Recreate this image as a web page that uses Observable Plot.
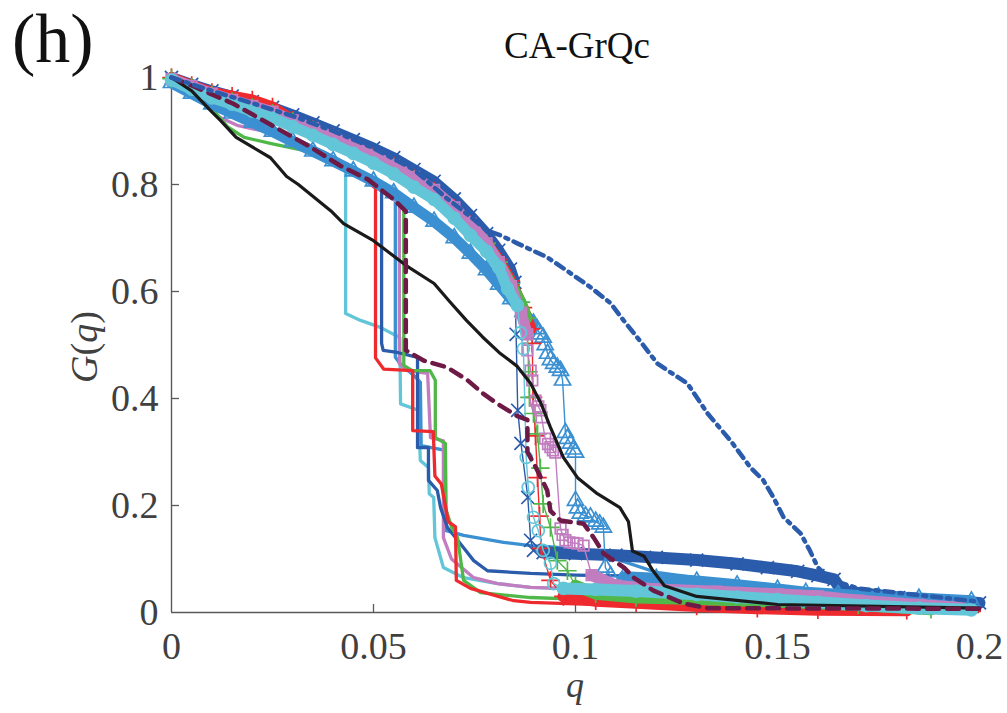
<!DOCTYPE html>
<html>
<head>
<meta charset="utf-8">
<script src="https://cdn.jsdelivr.net/npm/d3@7"></script>
<script src="https://cdn.jsdelivr.net/npm/@observablehq/plot@0.6"></script>
<style>
  body { margin: 0; background: #fff; }
  #chart { width: 1007px; height: 713px; }
</style>
</head>
<body>
<div id="chart"></div>
<script>
// Giant-component size G(q) versus removed fraction q, CA-GrQc network.
const xTicks = [0, 0.05, 0.1, 0.15, 0.2];
const yTicks = [0, 0.2, 0.4, 0.6, 0.8, 1];

// Reference curves
const blackCurve = [[0,1],[0.005,0.975],[0.0101,0.935],[0.0121,0.92],[0.016,0.888],[0.0245,0.85],[0.0285,0.815],[0.0314,0.8],[0.0394,0.751],[0.0426,0.727],[0.05,0.695],[0.054,0.672],[0.058,0.649],[0.065,0.615],[0.069,0.58],[0.073,0.546],[0.077,0.515],[0.0814,0.484],[0.0856,0.46],[0.0889,0.428],[0.0915,0.39],[0.0938,0.346],[0.097,0.29],[0.1005,0.252],[0.1054,0.222],[0.111,0.196],[0.1131,0.17],[0.1141,0.115],[0.117,0.105],[0.119,0.08],[0.122,0.05],[0.13,0.03],[0.15,0.015],[0.2,0.008]];
const dashDotCurve = [[0,1],[0.01,0.975],[0.02,0.952],[0.03,0.928],[0.04,0.9],[0.05,0.868],[0.06,0.828],[0.068,0.775],[0.0748,0.735],[0.078,0.714],[0.0814,0.705],[0.0856,0.69],[0.093,0.664],[0.0988,0.634],[0.1037,0.608],[0.1087,0.578],[0.112,0.545],[0.1153,0.514],[0.1203,0.465],[0.1277,0.428],[0.1327,0.372],[0.1384,0.321],[0.1433,0.271],[0.1465,0.247],[0.149,0.215],[0.1515,0.178],[0.1557,0.148],[0.158,0.116],[0.16,0.084],[0.163,0.062],[0.17,0.045],[0.2,0.02]];
const maroonCurve = [[0,1],[0.005,0.985],[0.0153,0.951],[0.0245,0.912],[0.0344,0.87],[0.0418,0.835],[0.0485,0.81],[0.055,0.772],[0.058,0.75],[0.058,0.49],[0.0624,0.471],[0.0683,0.458],[0.0733,0.434],[0.077,0.41],[0.0807,0.39],[0.0856,0.367],[0.0881,0.36],[0.0881,0.3],[0.0906,0.265],[0.093,0.228],[0.0938,0.19],[0.0963,0.172],[0.102,0.166],[0.1045,0.14],[0.107,0.11],[0.112,0.084],[0.1144,0.065],[0.1193,0.041],[0.1267,0.017],[0.1327,0.008],[0.2,0.007]];

// Solid curves with an early collapse
const solidCyan = [[0,0.995],[0.01,0.957],[0.02,0.922],[0.03,0.888],[0.038,0.86],[0.0431,0.835],[0.0431,0.559],[0.0468,0.546],[0.0517,0.533],[0.0565,0.514],[0.0567,0.39],[0.0611,0.378],[0.0616,0.284],[0.0636,0.271],[0.0638,0.222],[0.0649,0.215],[0.0652,0.14],[0.0673,0.084],[0.0723,0.065],[0.0807,0.054],[0.0889,0.047],[0.1,0.044],[0.12,0.038],[0.15,0.025],[0.17,0.015],[0.2,0.005]];
const solidRed = [[0,1],[0.005,0.975],[0.0094,0.955],[0.0163,0.925],[0.02,0.915],[0.0245,0.905],[0.032,0.88],[0.04,0.85],[0.045,0.825],[0.0505,0.793],[0.0505,0.476],[0.0525,0.455],[0.0597,0.452],[0.0597,0.34],[0.0648,0.338],[0.0652,0.255],[0.0668,0.24],[0.0685,0.17],[0.0703,0.16],[0.0705,0.06],[0.074,0.045],[0.08,0.032],[0.0847,0.022],[0.0889,0.019],[0.1,0.016],[0.12,0.012],[0.15,0.006],[0.2,0.003]];
const solidDarkBlue = [[0,1],[0.01,0.958],[0.02,0.922],[0.03,0.887],[0.04,0.852],[0.046,0.822],[0.052,0.79],[0.052,0.503],[0.0524,0.49],[0.0559,0.486],[0.0609,0.477],[0.0609,0.308],[0.0636,0.308],[0.0636,0.247],[0.0658,0.228],[0.0666,0.196],[0.0683,0.159],[0.0723,0.121],[0.0748,0.097],[0.0782,0.078],[0.0889,0.073],[0.1,0.07],[0.115,0.068],[0.12,0.06],[0.14,0.045],[0.17,0.03],[0.2,0.02]];
const solidLightBlue = [[0,0.99],[0.01,0.953],[0.02,0.918],[0.03,0.884],[0.04,0.848],[0.048,0.808],[0.0554,0.77],[0.0554,0.477],[0.0566,0.465],[0.0604,0.44],[0.0616,0.43],[0.0618,0.312],[0.0678,0.303],[0.068,0.153],[0.0723,0.144],[0.0822,0.131],[0.0889,0.125],[0.095,0.122],[0.1,0.118],[0.11,0.1],[0.12,0.075],[0.14,0.055],[0.17,0.035],[0.2,0.02]];
const solidPink = [[0,0.996],[0.0047,0.975],[0.0121,0.925],[0.0165,0.91],[0.0245,0.897],[0.032,0.876],[0.04,0.848],[0.048,0.81],[0.0564,0.765],[0.0564,0.465],[0.0584,0.452],[0.0634,0.447],[0.0641,0.327],[0.0673,0.321],[0.0673,0.14],[0.0693,0.1],[0.0748,0.065],[0.0807,0.054],[0.0889,0.047],[0.1,0.044],[0.12,0.04],[0.15,0.03],[0.17,0.02],[0.2,0.01]];
const solidGreen = [[0,0.998],[0.005,0.975],[0.0082,0.957],[0.014,0.907],[0.018,0.888],[0.025,0.876],[0.0327,0.864],[0.04,0.848],[0.045,0.83],[0.05,0.812],[0.0575,0.77],[0.0575,0.462],[0.0596,0.452],[0.064,0.452],[0.0653,0.434],[0.0653,0.327],[0.0678,0.316],[0.0678,0.196],[0.0693,0.16],[0.0708,0.14],[0.0723,0.06],[0.0765,0.037],[0.0889,0.028],[0.1,0.025],[0.12,0.022],[0.15,0.016],[0.18,0.008],[0.2,0.004]];

// Marker curves with a late collapse: head, collapse, tail
const timesHead = [[0,1],[0.005,0.987],[0.01,0.975],[0.015,0.965],[0.02,0.955],[0.025,0.944],[0.03,0.93],[0.035,0.915],[0.04,0.9],[0.045,0.884],[0.05,0.868],[0.055,0.85],[0.06,0.828],[0.065,0.806],[0.07,0.773],[0.074,0.742],[0.078,0.708],[0.081,0.677],[0.0839,0.642],[0.085,0.617]];
const timesDrop = [[0.0853,0.52],[0.0857,0.378],[0.0865,0.316],[0.0882,0.215],[0.0889,0.135],[0.0896,0.116]];
const timesTail = [[0.092,0.112],[0.1,0.11],[0.11,0.107],[0.12,0.103],[0.13,0.098],[0.14,0.091],[0.1475,0.084],[0.155,0.077],[0.16,0.069],[0.164,0.062],[0.166,0.04],[0.18,0.028],[0.2,0.018]];

const triHead = [[0,0.99],[0.005,0.97],[0.01,0.95],[0.015,0.933],[0.02,0.916],[0.025,0.899],[0.03,0.88],[0.035,0.862],[0.04,0.844],[0.045,0.825],[0.05,0.806],[0.055,0.784],[0.06,0.757],[0.065,0.731],[0.07,0.7],[0.074,0.671],[0.078,0.64],[0.081,0.613],[0.084,0.586],[0.087,0.562],[0.0896,0.54]];
const triDrop = [[0.0905,0.53],[0.0913,0.52],[0.092,0.514],[0.0925,0.5],[0.0931,0.484],[0.0938,0.472],[0.0946,0.465],[0.0955,0.458],[0.0963,0.452],[0.0968,0.434],[0.0975,0.336],[0.098,0.325],[0.0988,0.316],[0.0995,0.305],[0.1,0.299],[0.1,0.209],[0.1005,0.195],[0.1012,0.185],[0.1025,0.18],[0.1037,0.178],[0.105,0.17],[0.106,0.165],[0.1069,0.159],[0.1074,0.084],[0.1087,0.068]];
const triTail = [[0.112,0.066],[0.12,0.063],[0.13,0.058],[0.14,0.051],[0.15,0.043],[0.157,0.037],[0.165,0.033],[0.175,0.029],[0.185,0.026],[0.198,0.021]];

const plusRedHead = [[0,1],[0.005,0.985],[0.01,0.972],[0.015,0.965],[0.02,0.958],[0.025,0.945],[0.03,0.92],[0.035,0.903],[0.04,0.888],[0.045,0.871],[0.05,0.853],[0.055,0.835],[0.06,0.812],[0.065,0.788],[0.07,0.755],[0.074,0.725],[0.078,0.69],[0.081,0.66],[0.084,0.62],[0.087,0.57],[0.089,0.53]];
const plusRedDrop = [[0.0893,0.503],[0.0895,0.402],[0.0901,0.33],[0.0906,0.252],[0.0911,0.18],[0.0915,0.12],[0.0938,0.06]];
const plusRedTail = [[0.097,0.03],[0.105,0.022],[0.115,0.018],[0.13,0.012],[0.145,0.008],[0.16,0.005],[0.182,0.004]];

const plusGreenHead = [[0,0.998],[0.005,0.982],[0.01,0.968],[0.015,0.955],[0.02,0.944],[0.025,0.933],[0.03,0.918],[0.035,0.902],[0.04,0.886],[0.045,0.869],[0.05,0.851],[0.055,0.832],[0.06,0.81],[0.065,0.785],[0.07,0.752],[0.074,0.722],[0.078,0.69],[0.081,0.655],[0.084,0.615],[0.0865,0.58],[0.088,0.55]];
const plusGreenDrop = [[0.0884,0.45],[0.0886,0.402],[0.0896,0.372],[0.0906,0.334],[0.0913,0.27],[0.092,0.203],[0.0938,0.159],[0.0955,0.097],[0.098,0.078]];
const plusGreenTail = [[0.1,0.05],[0.105,0.035],[0.115,0.028],[0.13,0.025],[0.15,0.02],[0.17,0.014],[0.188,0.006]];

const squareHead = [[0,0.997],[0.005,0.984],[0.01,0.97],[0.015,0.958],[0.02,0.947],[0.025,0.936],[0.03,0.92],[0.035,0.905],[0.04,0.889],[0.045,0.872],[0.05,0.854],[0.055,0.836],[0.06,0.814],[0.065,0.79],[0.07,0.757],[0.074,0.727],[0.078,0.69],[0.081,0.655],[0.084,0.61],[0.0865,0.56],[0.0881,0.52]];
const squareDrop = [[0.0881,0.49],[0.0889,0.452],[0.0893,0.434],[0.0901,0.396],[0.0908,0.385],[0.0913,0.378],[0.0916,0.365],[0.0925,0.325],[0.0932,0.315],[0.0938,0.309],[0.0944,0.303],[0.095,0.299],[0.0963,0.157],[0.0968,0.145],[0.0975,0.135],[0.0985,0.131],[0.0995,0.13],[0.1005,0.129],[0.102,0.125]];
const squareTail = [[0.104,0.07],[0.11,0.05],[0.12,0.043],[0.135,0.039],[0.15,0.034],[0.16,0.03],[0.17,0.022],[0.185,0.014],[0.195,0.009]];

const circleHead = [[0,0.995],[0.005,0.978],[0.01,0.962],[0.015,0.95],[0.02,0.937],[0.025,0.924],[0.03,0.908],[0.035,0.892],[0.04,0.875],[0.045,0.858],[0.05,0.84],[0.055,0.82],[0.06,0.795],[0.065,0.772],[0.07,0.737],[0.074,0.705],[0.078,0.675],[0.081,0.645],[0.0832,0.605],[0.0856,0.574]];
const circleDrop = [[0.0864,0.523],[0.0871,0.493],[0.0878,0.29],[0.0883,0.234],[0.0896,0.178],[0.0908,0.153],[0.092,0.116],[0.0938,0.092],[0.0946,0.054]];
const circleTail = [[0.097,0.045],[0.105,0.043],[0.115,0.04],[0.13,0.034],[0.14,0.029],[0.15,0.024],[0.16,0.019],[0.172,0.013],[0.185,0.008],[0.198,0.005]];

// Colours
const C = {
  red: "#ee2a2e", green: "#4fb848", darkBlue: "#2b5bab", pink: "#c17dc0",
  lightBlue: "#3b90d2", cyan: "#62c6d8", maroon: "#6d1a46", black: "#1a1a1a", axis: "#5a5a5a"
};

const W = 1007, H = 713, mL = 171, mR = 28, mT = 77, mB = 101;
const plotW = W - mL - mR, plotH = H - mT - mB;
const rows = pts => pts.map(([q, g]) => ({q, g}));

const solidSeries = [
  {data: solidCyan, color: C.cyan},
  {data: solidLightBlue, color: C.lightBlue},
  {data: solidPink, color: C.pink},
  {data: solidDarkBlue, color: C.darkBlue},
  {data: solidGreen, color: C.green},
  {data: solidRed, color: C.red}
];
const markerSeries = [
  {head: timesHead, drop: timesDrop, tail: timesTail, color: C.darkBlue, symbol: "times"},
  {head: triHead, drop: triDrop, tail: triTail, color: C.lightBlue, symbol: "triangle"},
  {head: plusRedHead, drop: plusRedDrop, tail: plusRedTail, color: C.red, symbol: "plus"},
  {head: plusGreenHead, drop: plusGreenDrop, tail: plusGreenTail, color: C.green, symbol: "plus"},
  {head: squareHead, drop: squareDrop, tail: squareTail, color: C.pink, symbol: "square"},
  {head: circleHead, drop: circleDrop, tail: circleTail, color: C.cyan, symbol: "circle"}
];

const marks = [
  // axis lines and inward ticks
  Plot.ruleX(xTicks.slice(1), {stroke: C.axis, strokeWidth: 1.3, insetTop: plotH - 8}),
  Plot.ruleY(yTicks.slice(1), {stroke: C.axis, strokeWidth: 1.3, insetRight: plotW - 8}),
  Plot.ruleX([0], {stroke: C.axis, strokeWidth: 1.4}),
  Plot.ruleY([0], {stroke: C.axis, strokeWidth: 1.4}),
  Plot.axisX({ticks: xTicks, tickSize: 0, tickPadding: 20, tickFormat: d => String(d), label: null}),
  Plot.axisY({ticks: yTicks, tickSize: 0, tickPadding: 13, tickFormat: d => String(d), label: null})
];

for (const s of solidSeries) {
  marks.push(Plot.line(rows(s.data), {x: "q", y: "g", stroke: s.color, strokeWidth: 3.3, strokeLinejoin: "round"}));
}
for (const s of markerSeries) {
  const all = rows([...s.head, ...s.drop, ...s.tail]);
  const band = w => ({x: "q", y: "g", stroke: s.color, strokeWidth: w, strokeLinejoin: "round", strokeLinecap: "round"});
  marks.push(
    Plot.line(rows(s.head), band(11)),
    Plot.line(rows(s.tail), band(12)),
    Plot.line(all, {x: "q", y: "g", stroke: s.color, strokeWidth: 1.4}),
    Plot.dot(all, {x: "q", y: "g", symbol: s.symbol, r: 6, stroke: s.color, fill: "none", strokeWidth: 1.7})
  );
}
marks.push(
  Plot.line(rows(blackCurve), {x: "q", y: "g", stroke: C.black, strokeWidth: 3.2, strokeLinejoin: "round"}),
  Plot.line(rows(maroonCurve), {x: "q", y: "g", stroke: C.maroon, strokeWidth: 4.5, strokeDasharray: "12,8"}),
  Plot.line(rows(dashDotCurve), {x: "q", y: "g", stroke: C.darkBlue, strokeWidth: 4.5, strokeDasharray: "9,6,3,6"})
);

const chart = Plot.plot({
  width: W, height: H,
  marginLeft: mL, marginRight: mR, marginTop: mT, marginBottom: mB,
  x: {domain: [0, 0.2]},
  y: {domain: [0, 1]},
  style: {fontFamily: '"Liberation Serif", "Times New Roman", serif', fontSize: "38px", color: "#404040", background: "#fff", overflow: "visible"},
  marks
});

const svg = d3.select(chart);
svg.append("text").attr("x", 12).attr("y", 62).attr("text-anchor", "start").attr("font-size", 70).attr("fill", "#111").text("(h)");
svg.append("text").attr("x", 577).attr("y", 58).attr("text-anchor", "middle").attr("font-size", 37).attr("fill", "#111").text("CA-GrQc");
const yl = svg.append("text").attr("transform", "translate(97,347) rotate(-90)").attr("text-anchor", "middle").attr("font-size", 38).attr("fill", "#404040");
yl.append("tspan").attr("font-style", "italic").text("G");
yl.append("tspan").text("(");
yl.append("tspan").attr("font-style", "italic").text("q");
yl.append("tspan").text(")");
svg.append("text").attr("x", 575).attr("y", 697).attr("text-anchor", "middle").attr("font-size", 36).attr("font-style", "italic").attr("fill", "#404040").text("q");

document.getElementById("chart").append(chart);
</script>
</body>
</html>
